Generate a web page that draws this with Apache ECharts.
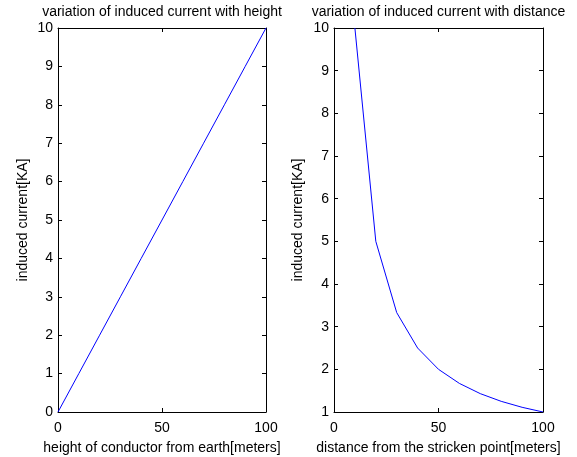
<!DOCTYPE html>
<html>
<head>
<meta charset="utf-8">
<script src="https://cdn.jsdelivr.net/npm/echarts@6/dist/echarts.min.js"></script>
<style>
html,body{margin:0;padding:0;background:#fff;}
#chart{width:577px;height:457px;}
</style>
</head>
<body>
<div id="chart"></div>
<script>
// Left subplot: induced current vs height
var heights = [0, 10, 20, 30, 40, 50, 60, 70, 80, 90, 100];
var currentByHeight = [0, 1, 2, 3, 4, 5, 6, 7, 8, 9, 10];
// Right subplot: induced current vs distance
var distances = [10, 20, 30, 40, 50, 60, 70, 80, 90, 100];
var currentByDistance = [10, 5, 3.33, 2.5, 2, 1.67, 1.43, 1.25, 1.11, 1];

var titles = ['variation of induced current with height', 'variation of induced current with distance'];
var xNames = ['height of conductor from earth[meters]', 'distance from the stricken point[meters]'];
var yName = 'induced current[KA]';

var FONT = 'Liberation Sans';
var FS = 14;

var grids = [
  {left: 58, top: 28, width: 208, height: 384, outerBoundsMode: 'none', containLabel: false},
  {left: 334, top: 28, width: 209, height: 384, outerBoundsMode: 'none', containLabel: false}
];

function pairs(xs, ys) {
  return xs.map(function (x, i) { return [x, ys[i]]; });
}

function xAxisDef(gridIndex, pos, name) {
  var main = pos === 'bottom';
  return {
    type: 'value', gridIndex: gridIndex, position: pos,
    min: 0, max: 100, interval: 50,
    name: main ? name : '', nameLocation: 'middle', nameGap: 29,
    nameTextStyle: {fontFamily: FONT, fontSize: FS, color: '#000'},
    axisLine: {show: true, onZero: false, lineStyle: {color: '#000', width: 1}},
    axisTick: {show: true, inside: true, length: 4, lineStyle: {color: '#000'}},
    axisLabel: {show: main, margin: 9, fontFamily: FONT, fontSize: FS, color: '#000'},
    splitLine: {show: false}
  };
}

function yAxisDef(gridIndex, pos, min, gap) {
  var main = pos === 'left';
  return {
    type: 'value', gridIndex: gridIndex, position: pos,
    min: min, max: 10, interval: 1,
    name: main ? yName : '', nameLocation: 'middle', nameGap: gap,
    nameTextStyle: {fontFamily: FONT, fontSize: FS, color: '#000'},
    axisLine: {show: true, onZero: false, lineStyle: {color: '#000', width: 1}},
    axisTick: {show: true, inside: true, length: 4, lineStyle: {color: '#000'}},
    axisLabel: {show: main, margin: 5, fontFamily: FONT, fontSize: FS, color: '#000'},
    splitLine: {show: false}
  };
}

var chart = echarts.init(document.getElementById('chart'), null, {renderer: 'canvas'});
chart.setOption({
  backgroundColor: '#fff',
  animation: false,
  title: [
    {text: titles[0], left: 162, top: 5, textAlign: 'center', padding: 0,
     textStyle: {fontFamily: FONT, fontSize: FS, fontWeight: 'normal', color: '#000'}},
    {text: titles[1], left: 438.5, top: 5, textAlign: 'center', padding: 0,
     textStyle: {fontFamily: FONT, fontSize: FS, fontWeight: 'normal', color: '#000'}}
  ],
  grid: grids,
  xAxis: [
    xAxisDef(0, 'bottom', xNames[0]),
    xAxisDef(0, 'top', ''),
    xAxisDef(1, 'bottom', xNames[1]),
    xAxisDef(1, 'top', '')
  ],
  yAxis: [
    yAxisDef(0, 'left', 0, 28),
    yAxisDef(0, 'right', 0, 28),
    yAxisDef(1, 'left', 1, 29),
    yAxisDef(1, 'right', 1, 29)
  ],
  series: [
    {type: 'line', xAxisIndex: 0, yAxisIndex: 0, data: pairs(heights, currentByHeight),
     showSymbol: false, symbol: 'none', lineStyle: {color: '#0000ff', width: 1}, clip: true},
    {type: 'line', xAxisIndex: 2, yAxisIndex: 2, data: pairs(distances, currentByDistance),
     showSymbol: false, symbol: 'none', lineStyle: {color: '#0000ff', width: 1}, clip: true}
  ]
});
</script>
</body>
</html>
